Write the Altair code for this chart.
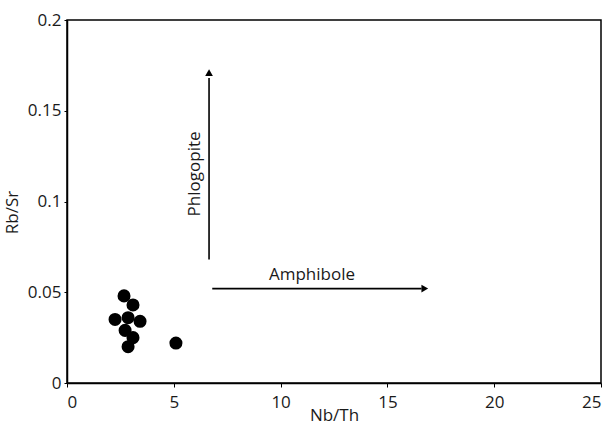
import altair as alt
import pandas as pd

nb_th = [2.67, 3.09, 2.25, 3.42, 2.86, 2.72, 3.09, 2.86, 5.1]
rb_sr = [0.048, 0.043, 0.035, 0.034, 0.036, 0.029, 0.025, 0.020, 0.022]

arrow_names = ["Phlogopite", "Amphibole"]
arrow_x1 = [6.65, 6.8]
arrow_y1 = [0.068, 0.052]
arrow_x2 = [6.65, 16.6]
arrow_y2 = [0.168, 0.052]
arrow_shape = ["triangle-up", "triangle-right"]
arrow_tip_x = [6.65, 16.75]
arrow_tip_y = [0.171, 0.052]

label_text = ["Phlogopite", "Amphibole"]
label_x = [6.0, 11.47]
label_y = [0.1152, 0.0595]
label_angle = [270, 0]

pts = pd.DataFrame({"x": nb_th, "y": rb_sr})
arrows = pd.DataFrame({"name": arrow_names, "x": arrow_x1, "y": arrow_y1,
                       "x2": arrow_x2, "y2": arrow_y2,
                       "tx": arrow_tip_x, "ty": arrow_tip_y, "shape": arrow_shape})
labels = pd.DataFrame({"t": label_text, "x": label_x, "y": label_y, "a": label_angle})

FONT = "Open Sans"
FS = 17

xs = alt.Scale(domain=[0, 25], nice=False, zero=False)
ys = alt.Scale(domain=[0, 0.2], nice=False, zero=False)

xaxis = alt.Axis(values=[0, 5, 10, 15, 20, 25], grid=False, title="Nb/Th",
                 titleY=24, labelPadding=7, tickSize=4)
yaxis = alt.Axis(values=[0, 0.05, 0.1, 0.15, 0.2], grid=False, title="Rb/Sr",
                 format="~g", titleY=192, titleX=-46, labelPadding=3, tickSize=3)

points = alt.Chart(pts).mark_circle(color="black", opacity=1, size=170).encode(
    x=alt.X("x:Q", scale=xs, axis=xaxis),
    y=alt.Y("y:Q", scale=ys, axis=yaxis),
)

rules = alt.Chart(arrows).mark_rule(color="black", strokeWidth=1.6).encode(
    x="x:Q", y="y:Q", x2="x2:Q", y2="y2:Q"
)

heads_up = alt.Chart(arrows[arrows["shape"] == "triangle-up"]).mark_point(
    shape="triangle-up", filled=True, color="black", opacity=1, size=60
).encode(x="tx:Q", y="ty:Q")

heads_right = alt.Chart(arrows[arrows["shape"] == "triangle-right"]).mark_point(
    shape="triangle-right", filled=True, color="black", opacity=1, size=60
).encode(x="tx:Q", y="ty:Q")

lab_v = alt.Chart(labels[labels["a"] == 270]).mark_text(
    angle=270, font=FONT, fontSize=FS, color="#1a1a1a"
).encode(x="x:Q", y="y:Q", text="t:N")

lab_h = alt.Chart(labels[labels["a"] == 0]).mark_text(
    font=FONT, fontSize=FS, color="#1a1a1a"
).encode(x="x:Q", y="y:Q", text="t:N")

chart = alt.layer(rules, heads_up, heads_right, points, lab_v, lab_h).properties(
    width=534, height=363,
    autosize=alt.AutoSizeParams(type="none"),
    padding={"left": 67, "top": 20, "right": 15, "bottom": 49},
    background="white",
).configure_view(stroke="black", strokeWidth=1.5).configure_axis(
    domainColor="black", domainWidth=1.5, tickColor="black",
    labelFont=FONT, titleFont=FONT, labelFontSize=FS, titleFontSize=FS,
    labelColor="#1a1a1a", titleColor="#1a1a1a", titleFontWeight="normal",
)

chart.save("out.html", embed_options={"renderer": "svg", "actions": False})
